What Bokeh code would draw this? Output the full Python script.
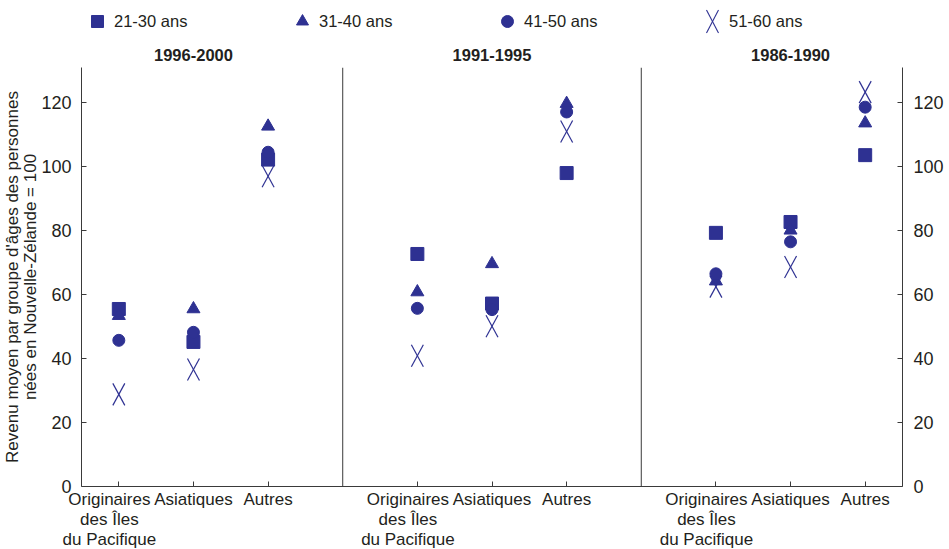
from bokeh.plotting import figure
from bokeh.layouts import column
from bokeh.models import (Range1d, LinearAxis, FixedTicker, Span, Legend, LegendItem)
from bokeh.core.properties import value
from bokeh.embed import file_html
from bokeh.resources import INLINE

# ---------------- data ----------------
periods = ["1996-2000", "1991-1995", "1986-1990"]
origins = ["Originaires    \ndes Îles    \ndu Pacifique    ", "Asiatiques", "Autres"]
ages = ["21-30 ans", "31-40 ans", "41-50 ans", "51-60 ans"]

# values ordered: 1996-2000 (Pacifique, Asiatiques, Autres), 1991-1995 (...), 1986-1990 (...)
age_21_30 = [55.5, 45.2, 102.2, 72.7, 57.2, 98.0, 79.3, 82.7, 103.6]
age_31_40 = [53.4, 55.5, 112.6, 60.8, 69.6, 119.7, 64.2, 80.1, 113.6]
age_41_50 = [45.7, 48.2, 104.5, 55.7, 55.3, 117.1, 66.5, 76.5, 118.6]
age_51_60 = [28.8, 36.6, 97.0, 40.9, 50.1, 111.0, 62.5, 68.6, 123.3]

y_ticks = [0, 20, 40, 60, 80, 100, 120]

# ---------------- style ----------------
BLUE = "#2E3192"
TXT = "#231F20"
AX = "#3a3a3a"
FONT = "Liberation Sans"
FW, FH, HEAD = 821, 419, 67
BL, BR = 79, 40
NAN = float("nan")

xs = [4 * g + c for g in range(len(periods)) for c in range(len(origins))]
tick_labels = {x: origins[i % len(origins)] for i, x in enumerate(xs)}
x_rng = Range1d(-0.5, 10.5)
px_to_x = (x_rng.end - x_rng.start) / FW          # data units per pixel (x)
px_to_y = 131 / FH                                # data units per pixel (y)

# ---------------- header (legend + period titles) ----------------
head = figure(frame_width=FW, frame_height=HEAD, x_range=x_rng, y_range=Range1d(0, HEAD),
              x_axis_type=None, y_axis_type=None, output_backend="svg", toolbar_location=None,
              min_border_left=BL, min_border_right=BR, min_border_top=0, min_border_bottom=0)
head.outline_line_color = None
head.xgrid.visible = False
head.ygrid.visible = False

LEG_X, LEG_Y, GW, ITEM_W = 1, 31, 30, 205
l_sq = head.scatter(x=[NAN], y=[NAN], marker="square", color=BLUE)
l_tr = head.scatter(x=[NAN], y=[NAN], marker="triangle", color=BLUE)
l_ci = head.scatter(x=[NAN], y=[NAN], marker="circle", color=BLUE)
l_x = head.scatter(x=[NAN], y=[NAN], marker="x", line_alpha=0)

legend = Legend(items=[LegendItem(label=ages[0], renderers=[l_sq]),
                       LegendItem(label=ages[1], renderers=[l_tr]),
                       LegendItem(label=ages[2], renderers=[l_ci]),
                       LegendItem(label=ages[3], renderers=[l_x])],
                location=(LEG_X, LEG_Y), orientation="horizontal",
                label_width=ITEM_W - GW - 2, spacing=0, glyph_width=GW, glyph_height=GW,
                label_standoff=2, padding=0, margin=0,
                background_fill_alpha=0, border_line_color=None,
                label_text_font=FONT, label_text_font_size="16.5px", label_text_color=TXT)
head.add_layout(legend)

# tall thin "X" symbol for the 51-60 legend entry
lx = x_rng.start + (LEG_X + 3 * ITEM_W + GW / 2) * px_to_x
ly = LEG_Y + GW / 2
hx, hy = 6 * px_to_x, 11.5
head.segment(x0=[lx - hx, lx - hx], y0=[ly - hy, ly + hy], x1=[lx + hx, lx + hx], y1=[ly + hy, ly - hy],
             line_color=BLUE, line_width=1.1)

head.text(x=[4 * g + 1 for g in range(len(periods))], y=[13] * len(periods), text=periods,
          text_align="center", text_baseline="middle", text_font=value(FONT),
          text_font_size="16.5px", text_font_style="bold", text_color=TXT)

# ---------------- main plot ----------------
p = figure(frame_width=FW, frame_height=FH, x_range=x_rng, y_range=Range1d(0, 131),
           output_backend="svg", toolbar_location=None,
           min_border_left=BL, min_border_right=BR, min_border_top=0, min_border_bottom=61)
p.outline_line_color = None
p.xgrid.visible = False
p.ygrid.visible = False

xa = p.xaxis[0]
xa.ticker = FixedTicker(ticks=xs)
xa.major_label_overrides = tick_labels
xa.major_label_text_font = FONT
xa.major_label_text_font_size = "17px"
xa.major_label_text_color = TXT
xa.major_label_text_line_height = 1.07
xa.major_label_standoff = 3
xa.major_tick_in = 5
xa.major_tick_out = 0
xa.minor_tick_line_color = None
xa.axis_line_color = AX
xa.major_tick_line_color = AX


def style_y(ax, standoff):
    ax.ticker = FixedTicker(ticks=y_ticks)
    ax.major_tick_in = 5
    ax.major_tick_out = 0
    ax.minor_tick_line_color = None
    ax.axis_line_color = AX
    ax.major_tick_line_color = AX
    ax.major_label_text_font = FONT
    ax.major_label_text_font_size = "18px"
    ax.major_label_text_color = TXT
    ax.major_label_standoff = standoff


ya = p.yaxis[0]
style_y(ya, 10)
ya.axis_label = "Revenu moyen par groupe d'âges des personnes\nnées en Nouvelle-Zélande = 100"
ya.axis_label_text_font = FONT
ya.axis_label_text_font_size = "17px"
ya.axis_label_text_font_style = "normal"
ya.axis_label_text_color = TXT
ya.axis_label_text_line_height = 0.95
ya.axis_label_standoff = -2

yr = LinearAxis()
style_y(yr, 11)
p.add_layout(yr, "right")

# panel dividers
for g in range(1, len(periods)):
    p.add_layout(Span(location=4 * g - 1, dimension="height", line_color=AX, line_width=1))

# markers
p.scatter(xs, age_21_30, marker="square", size=13, color=BLUE)
p.scatter(xs, age_31_40, marker="triangle", size=13, color=BLUE)
p.scatter(xs, age_41_50, marker="circle", size=12, color=BLUE)

dx, dy = 6 * px_to_x, 11 * px_to_y
p.segment(x0=[x - dx for x in xs], y0=[v - dy for v in age_51_60],
          x1=[x + dx for x in xs], y1=[v + dy for v in age_51_60],
          line_color=BLUE, line_width=1.2)
p.segment(x0=[x - dx for x in xs], y0=[v + dy for v in age_51_60],
          x1=[x + dx for x in xs], y1=[v - dy for v in age_51_60],
          line_color=BLUE, line_width=1.2)

layout = column(head, p, spacing=0)
open("out.html", "w").write(file_html(layout, INLINE))
